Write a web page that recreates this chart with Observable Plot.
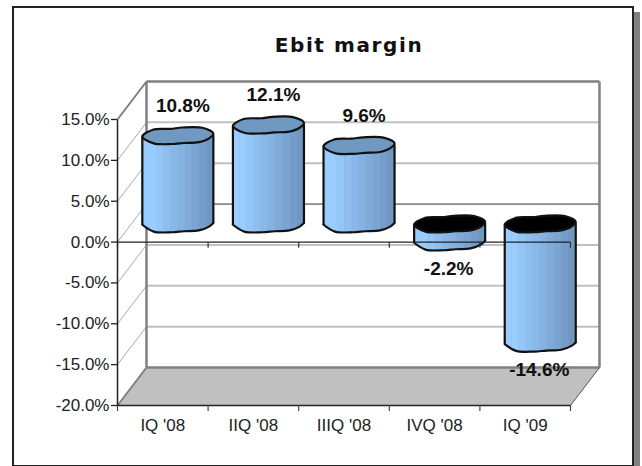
<!DOCTYPE html>
<html><head><meta charset="utf-8">
<script src="https://cdn.jsdelivr.net/npm/d3@7"></script>
<script src="https://cdn.jsdelivr.net/npm/@observablehq/plot@0.6"></script>
<style>
html,body{margin:0;padding:0;background:#fff;overflow:hidden}
#page{position:relative;width:642px;height:466px}
#box{position:absolute;left:12px;top:6px;width:618px;height:457px;border:2px solid #222;box-shadow:6px 6px 0 #808080;background:#fff}
#title{position:absolute;left:0;width:698px;top:32px;text-align:center;font:bold 20px "DejaVu Sans";letter-spacing:1.6px;color:#111;line-height:26px}
#chart{position:absolute;left:0;top:0}
</style></head><body>
<div id="page"><div id="box"></div><div id="chart"></div><div id="title">Ebit margin</div></div>
<script>
const categories = ["IQ '08", "IIQ '08", "IIIQ '08", "IVQ '08", "IQ '09"];
const margins = [10.8, 12.1, 9.6, -2.2, -14.6];
const labels = ["10.8%", "12.1%", "9.6%", "-2.2%", "-14.6%"];
const yTicks = [-20, -15, -10, -5, 0, 5, 10, 15];
const xEdges = [0, 1, 2, 3, 4, 5];
// Hand-read outline of a cylinder's end cap, as fractions of its half width / half depth
const capOutline = [[-1,.1],[-.7,-.72],[-.21,-.82],[.12,-.98],[.69,-.95],[1,-.27],[.88,.32],[.59,.78],[.17,.88],[-.16,1],[-.68,.92]];
const frontCurve = [[-1,.1],[-.68,.92],[-.16,1],[.17,.88],[.59,.78],[.88,.32],[1,-.1]];
const bandColors = ["#99ccff","#99ccff","#94c6f8","#8ebfef","#89b8e8","#85b2e1","#80abd9","#7ba4d1","#769dc9","#7097bf"];
// Depth of the oblique box in data units
const wall = {x: 0.32, y: 4.65};
const bar = {x: 0.166, y: 2.22, rx: 0.392, ry: 1.02};
const ink = "#111";

const curveAt = u => {
  for (let i = 1; i < frontCurve.length; i++) {
    const [a, b] = [frontCurve[i-1], frontCurve[i]];
    if (u <= b[0]) return a[1] + (b[1]-a[1]) * (u-a[0]) / (b[0]-a[0]);
  }
  return frontCurve[frontCurve.length-1][1];
};
const bars = margins.map((v, i) => ({i, v, label: labels[i], cx: i + .5 + bar.x,
  hi: Math.max(v,0) + bar.y, lo: Math.min(v,0) + bar.y}));
const px = (b,u) => b.cx + u * bar.rx;
const py = (lvl,w) => lvl - w * bar.ry;

const bodies = bars.flatMap(b => [
  ...frontCurve.map(([u,w]) => ({k:b.i, x:px(b,u), y:py(b.hi,w)})),
  ...frontCurve.slice().reverse().map(([u,w]) => ({k:b.i, x:px(b,u), y:py(b.lo,w)}))
]);
const bottoms = bars.flatMap(b => frontCurve.map(([u,w]) => ({k:b.i, x:px(b,u), y:py(b.lo,w)})));
const sides = bars.flatMap(b => [frontCurve[0], frontCurve[frontCurve.length-1]].map(([u,w]) => ({
  x:px(b,u), y1:py(b.lo,w), y2:py(b.hi,w)})));
const strips = bars.flatMap(b => bandColors.flatMap((c,j) => {
  const n = bandColors.length, u0 = -1 + 2*j/n, u1 = -1 + 2*(j+1)/n;
  return [u0,(u0+u1)/2,u1].map(u => ({key:b.i+"-"+j, fill:c, x:px(b,u), y1:py(b.lo,curveAt(u)), y2:py(b.hi,curveAt(u))}));
}));
const caps = bars.flatMap(b => capOutline.map(([u,w]) => ({
  k:b.i, fill: b.v < 0 ? "#000" : "#6f99c0", x:px(b,u), y:py(b.hi,w)})));
const backGrid = yTicks.filter(t => t !== 15 && t !== -20);
const wallEdges = [
  [wall.x,-20+wall.y,wall.x,15+wall.y],
  [5+wall.x,-20+wall.y,5+wall.x,15+wall.y],
  [wall.x,15+wall.y,5+wall.x,15+wall.y],
  [wall.x,-20+wall.y,5+wall.x,-20+wall.y]];
const floorPts = [[0,-20],[wall.x,-20+wall.y],[5+wall.x,-20+wall.y],[5,-20]];

const plot = Plot.plot({
  width: 642, height: 466,
  marginLeft: 117, marginRight: 72, marginTop: 119, marginBottom: 61,
  x: {domain: [0,5], axis: null},
  y: {domain: [-20,15], axis: null},
  style: {fontFamily: '"Liberation Sans"', fontSize: "17px", background: "transparent", color: "#222"},
  marks: [
    // back wall gridlines
    Plot.link(backGrid, {x1: () => wall.x, x2: () => 5 + wall.x, y1: t => t + wall.y, y2: t => t + wall.y,
      stroke: t => t === 0 ? "#333" : "#c0c0c0", strokeWidth: t => t === 0 ? 1 : 2}),
    // floor
    Plot.line(floorPts, {x:"0", y:"1", fill:"#c0c0c0", stroke:"none"}),
    // side wall diagonals
    Plot.link(backGrid, {x1:()=>0, x2:()=>wall.x, y1:t=>t, y2:t=>t+wall.y, stroke:"#aaa", strokeWidth:1}),
    // box edges
    Plot.link([15,-20], {x1:()=>0, x2:()=>wall.x, y1:d=>d, y2:d=>d+wall.y, stroke:"#808080", strokeWidth:2}),
    Plot.link(wallEdges, {x1:"0", y1:"1", x2:"2", y2:"3", stroke:"#808080", strokeWidth:2.5}),
    Plot.link([5], {x1:d=>d, y1:()=>-20, x2:d=>d+wall.x, y2:()=>-20+wall.y, stroke:"#555", strokeWidth:1}),
    // cylinders
    Plot.line(bodies, {x:"x", y:"y", z:"k", fill:"#85b2e1", stroke:"none"}),
    Plot.area(strips, {x1:"x", y1:"y1", y2:"y2", z:"key", fill:"fill"}),
    Plot.link(sides, {x1:"x", x2:"x", y1:"y1", y2:"y2", stroke:ink, strokeWidth:2.2}),
    Plot.line(bottoms, {x:"x", y:"y", z:"k", stroke:ink, strokeWidth:2.2, curve:"catmull-rom"}),
    Plot.line(caps, {x:"x", y:"y", z:"k", fill:"fill", stroke:ink, strokeWidth:2.2, curve:"catmull-rom-closed"}),
    // front zero plane and its ticks
    Plot.link([0], {x1:()=>0, x2:()=>5, y1:d=>d, y2:d=>d, stroke:"#222", strokeWidth:1.3}),
    Plot.link(xEdges, {x1:d=>d, x2:d=>d, y1:()=>0, y2:()=>-0.7, stroke:"#333", strokeWidth:1.2}),
    // axes
    Plot.link([0], {x1:d=>d, x2:d=>d, y1:()=>-20, y2:()=>15, stroke:"#222", strokeWidth:1.5}),
    Plot.link([-20], {x1:()=>0, x2:()=>5, y1:d=>d, y2:d=>d, stroke:"#222", strokeWidth:1.5}),
    Plot.axisY({ticks:yTicks, tickSize:6, tickPadding:2, tickFormat:d=>d.toFixed(1)+"%", stroke:"#222", strokeWidth:1.3, fontSize:17, fill:"#222", label:null}),
    Plot.axisX({ticks:xEdges, tickSize:6, tickFormat:()=>"", stroke:"#444", strokeWidth:1.2, label:null}),
    Plot.axisX({ticks:xEdges.slice(0,5).map(d=>d+.5), tickSize:0, tickPadding:13, tickFormat:d=>categories[Math.floor(d)], fontSize:17, fill:"#222", label:null}),
    // data labels
    Plot.text(bars.filter(b=>b.v>=0), {x:"cx", y:"hi", text:"label", dx:5, dy:-30, fontSize:19, fontWeight:"bold", fill:ink}),
    Plot.text(bars.filter(b=>b.v<0), {x:"cx", y:"lo", text:"label", dx:-1, dy:27, fontSize:19, fontWeight:"bold", fill:ink})
  ]
});
document.getElementById("chart").appendChild(plot);
</script>
</body></html>
